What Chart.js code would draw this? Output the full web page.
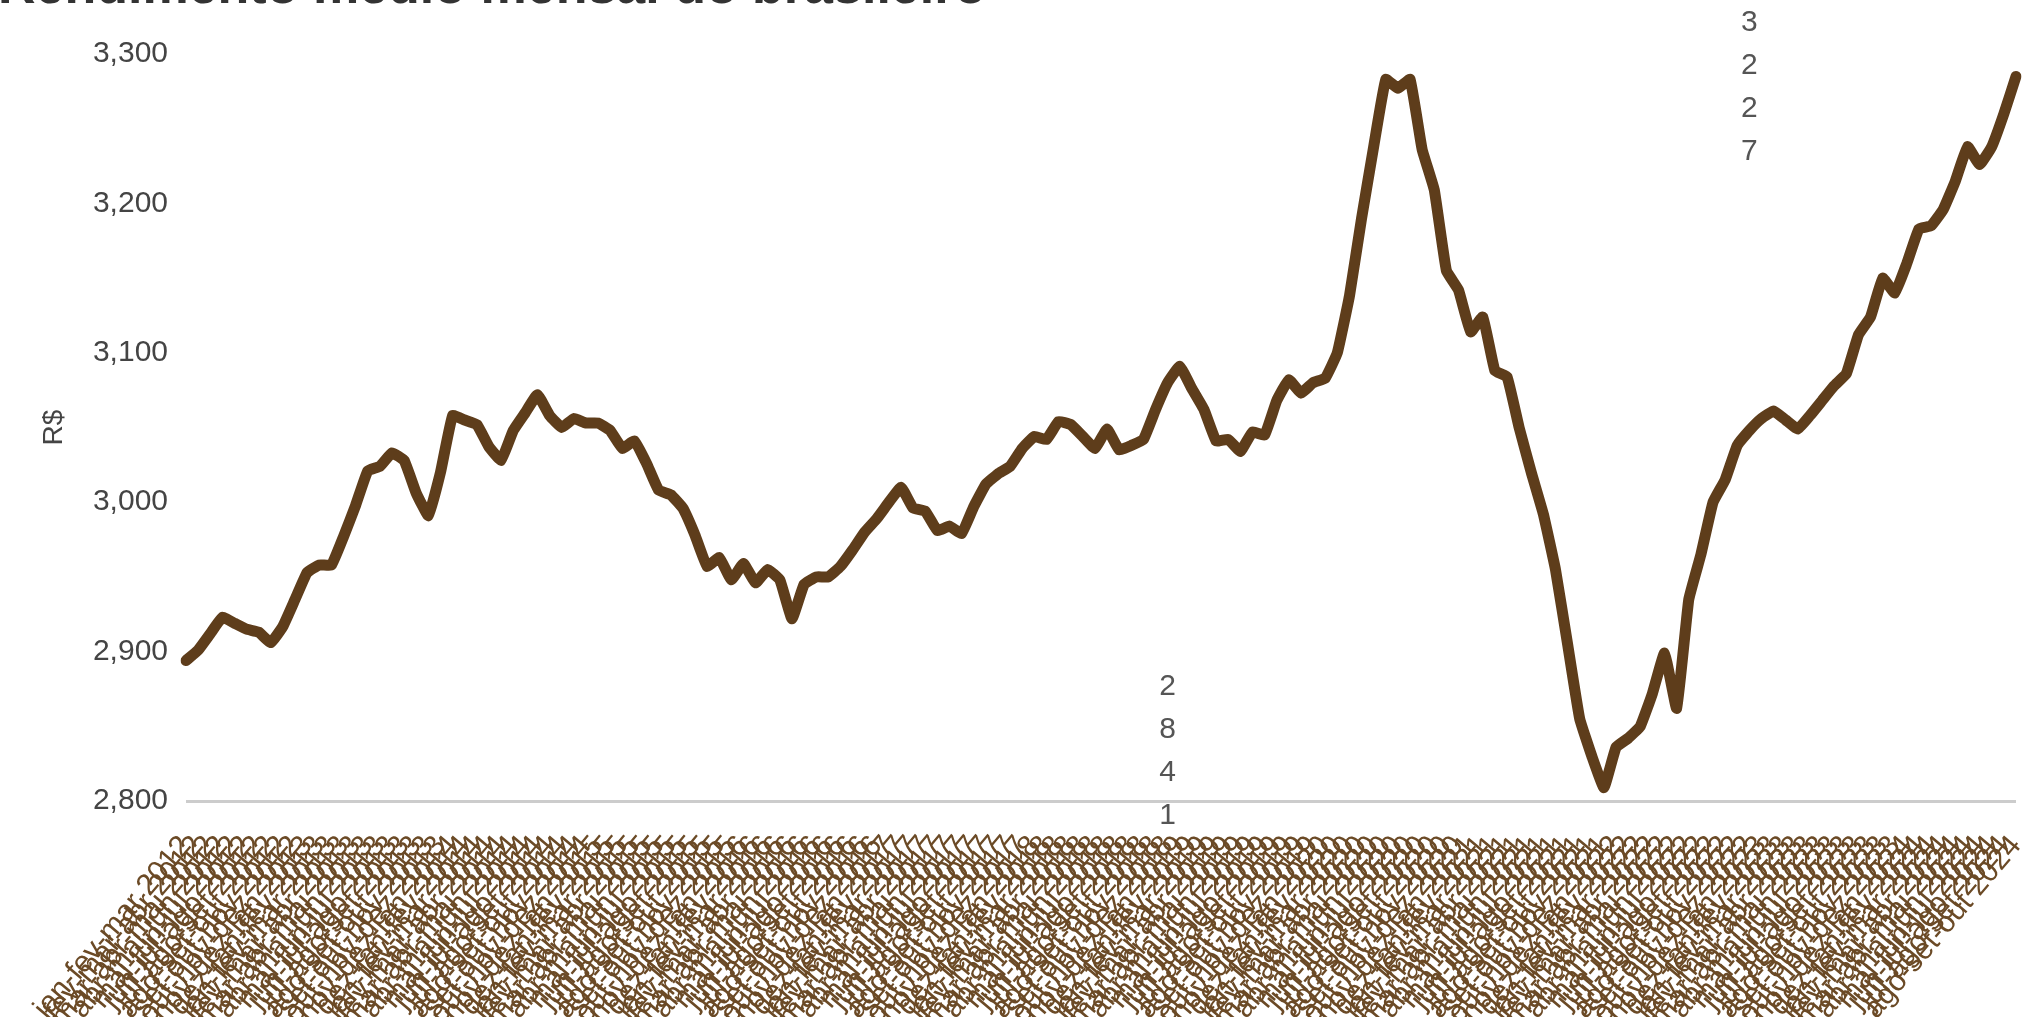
<!DOCTYPE html>
<html>
<head>
<meta charset="utf-8">
<title>Rendimento médio mensal do brasileiro</title>
<script src="https://cdn.jsdelivr.net/npm/chart.js@4.4.1/dist/chart.umd.min.js"></script>
<style>
  html, body { margin: 0; padding: 0; background: #fff; }
  #wrap { width: 2028px; height: 1017px; position: relative; }
</style>
</head>
<body>
<div id="wrap"><canvas id="grafico"></canvas></div>
<script>
const titulo = "Rendimento médio mensal do brasileiro";
const meses = ["jan", "fev", "mar", "abr", "mai", "jun", "jul", "ago", "set", "out", "nov", "dez"];
const anoInicial = 2012;

// Rendimento médio real (R$), trimestres móveis
const rendimento = [
  2894, 2901, 2912, 2923, 2919, 2915, 2913, 2906, 2917, 2935,
  2953, 2958, 2958, 2977, 2998, 3021, 3024, 3033, 3028, 3006,
  2991, 3020, 3058, 3055, 3052, 3037, 3028, 3048, 3060, 3072,
  3058, 3050, 3056, 3053, 3053, 3048, 3036, 3041, 3026, 3008,
  3005, 2996, 2978, 2957, 2963, 2948, 2959, 2946, 2955, 2948,
  2922, 2945, 2950, 2950, 2957, 2968, 2980, 2989, 3000, 3010,
  2996, 2994, 2981, 2984, 2979, 2997, 3012, 3019, 3024, 3036,
  3044, 3042, 3054, 3052, 3044, 3036, 3049, 3035, 3038, 3042,
  3062, 3080, 3091, 3076, 3062, 3041, 3042, 3034, 3047, 3045,
  3068, 3082, 3073, 3080, 3083, 3100, 3138, 3190, 3238, 3283,
  3277, 3283, 3236, 3209, 3155, 3142, 3114, 3124, 3088, 3084,
  3050, 3020, 2992, 2955, 2905, 2855, 2830, 2809, 2836, 2842,
  2850, 2872, 2899, 2862, 2935, 2965, 3000, 3015, 3038, 3048,
  3056, 3061, 3055, 3049, 3058, 3068, 3078, 3086, 3112, 3124,
  3150, 3140, 3160, 3183, 3185, 3196, 3215, 3238, 3226, 3238,
  3260, 3285
];

const anotacoes = ["2841", "3227"];
const anotacoesIdx = [81, 129];
const yTicks = [2800, 2900, 3000, 3100, 3200, 3300];

// Rótulos dos trimestres móveis (ano do último mês)
const trimestres = rendimento.map((_, i) => {
  const a = meses[i % 12], b = meses[(i + 1) % 12], c = meses[(i + 2) % 12];
  const ano = anoInicial + Math.floor((i + 2) / 12);
  return `${a}-${b}-${c} ${ano}`;
});

const fonte = '"Liberation Sans", Arial, sans-serif';
Chart.defaults.font.family = fonte;

// Título cortado no topo da imagem
const tituloCortado = {
  id: "tituloCortado",
  afterDraw(chart) {
    const ctx = chart.ctx;
    ctx.save();
    ctx.font = "bold 52px " + fonte;
    ctx.fillStyle = "#333333";
    ctx.textBaseline = "alphabetic";
    ctx.textAlign = "left";
    ctx.fillText(titulo, -2, 3);
    ctx.restore();
  }
};

// Anotações com os dígitos empilhados
const anotacoesVerticais = {
  id: "anotacoesVerticais",
  afterDraw(chart) {
    const { ctx, chartArea } = chart;
    const x = chart.scales.x;
    ctx.save();
    ctx.font = "30px " + fonte;
    ctx.fillStyle = "#555555";
    ctx.textAlign = "center";
    ctx.textBaseline = "middle";
    anotacoes.forEach((txt, k) => {
      const px = x.getPixelForValue(anotacoesIdx[k]);
      const chars = txt.split("");
      const topo = k === 0
        ? chartArea.bottom + 15 - 43 * (chars.length - 1)
        : chartArea.top - 31;
      chars.forEach((c, j) => ctx.fillText(c, px, topo + j * 43));
    });
    ctx.restore();
  }
};

const ctx = document.getElementById("grafico").getContext("2d");
new Chart(ctx, {
  type: "line",
  data: {
    labels: trimestres,
    datasets: [{
      label: "Rendimento médio",
      data: rendimento,
      borderColor: "#5e3d1b",
      backgroundColor: "#5e3d1b",
      borderWidth: 11,
      pointRadius: 0,
      tension: 0.1,
      borderJoinStyle: "round",
      borderCapStyle: "round",
      fill: false
    }]
  },
  options: {
    responsive: true,
    maintainAspectRatio: false,
    animation: false,
    locale: "en-US",
    layout: { padding: { left: 0, right: 12, top: 54, bottom: 0 } },
    plugins: {
      legend: { display: false },
      title: { display: false },
      tooltip: { enabled: false }
    },
    scales: {
      x: {
        offset: false,
        grid: { display: false },
        border: { display: false },
        ticks: {
          autoSkip: false,
          minRotation: 50,
          maxRotation: 50,
          color: "#6b4a26",
          font: { size: 30 },
          padding: 20
        },
        afterFit(scale) {
          scale.height = 216;
          scale.paddingLeft = 0;
          scale.paddingRight = 0;
        }
      },
      y: {
        min: 2800,
        max: 3300,
        afterBuildTicks(scale) { scale.ticks = yTicks.map(v => ({ value: v })); },
        grid: {
          color: c => (c.tick && c.tick.value === 2800) ? "#cccccc" : "rgba(0,0,0,0)",
          lineWidth: 3,
          drawTicks: false
        },
        border: { display: false },
        ticks: { color: "#444444", font: { size: 30 }, padding: 18 },
        title: {
          display: true,
          text: "R$",
          color: "#444444",
          font: { size: 28 },
          padding: { top: 37, bottom: 0 }
        },
        afterFit(scale) { scale.width = 186; }
      }
    }
  },
  plugins: [tituloCortado, anotacoesVerticais]
});
</script>
</body>
</html>
